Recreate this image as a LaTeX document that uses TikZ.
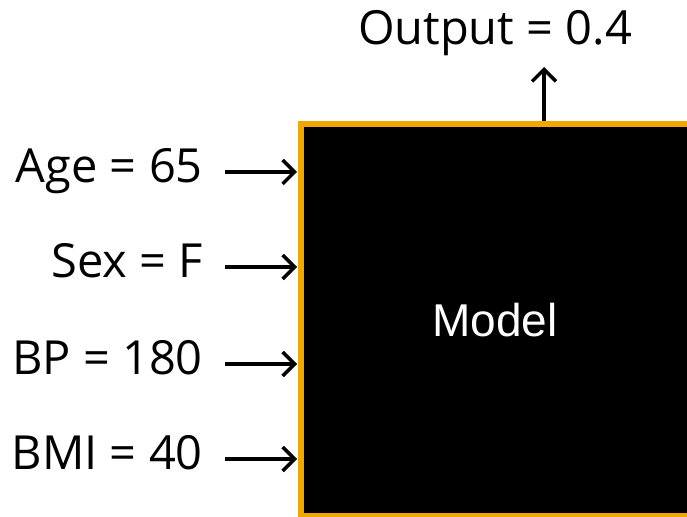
\documentclass[tikz,border=0pt]{standalone}
\usepackage{fontspec}
\setmainfont{Open Sans}
\newfontfamily\arialfont{Liberation Sans}
\usetikzlibrary{arrows.meta}
\definecolor{boxorange}{HTML}{F0A800}
\begin{document}
\begin{tikzpicture}[x=1pt,y=1pt,
  lbl/.style={inner sep=0pt, font=\fontsize{47}{56}\selectfont, anchor=base east},
  arr/.style={line width=4pt, -{Straight Barb[length=12pt,width=24pt,line width=3.5pt]}}
]
\useasboundingbox (0,0) rectangle (687,516);
\begin{scope}
\clip (0,0) rectangle (687,516);
\node[draw=boxorange, fill=black, line width=6pt, minimum width=420pt, minimum height=392pt, inner sep=0pt, anchor=north west] (box) at (298,395) {};
\end{scope}
\node[text=white, inner sep=0pt, anchor=base, font=\arialfont\fontsize{46}{55}\selectfont] (model) at (495,179) {Model};
\node[lbl] (age) at (203,333) {Age = 65};
\node[lbl] (sex) at (203,238) {Sex = F};
\node[lbl] (bp) at (203,141) {BP = 180};
\node[lbl] (bmi) at (203,46) {BMI = 40};
\node[inner sep=0pt, font=\fontsize{47}{56}\selectfont, anchor=base] (out) at (495,471) {Output = 0.4};
\foreach \n in {age,sex,bp,bmi}{
  \draw[arr] ([xshift=22pt,yshift=11pt]\n.base east) -- ([xshift=-1pt,yshift=11pt]\n.base east -| box.west);
}
\coordinate (outtip) at (544,449);
\draw[arr] (outtip |- box.north) -- (outtip);
\end{tikzpicture}
\end{document}
